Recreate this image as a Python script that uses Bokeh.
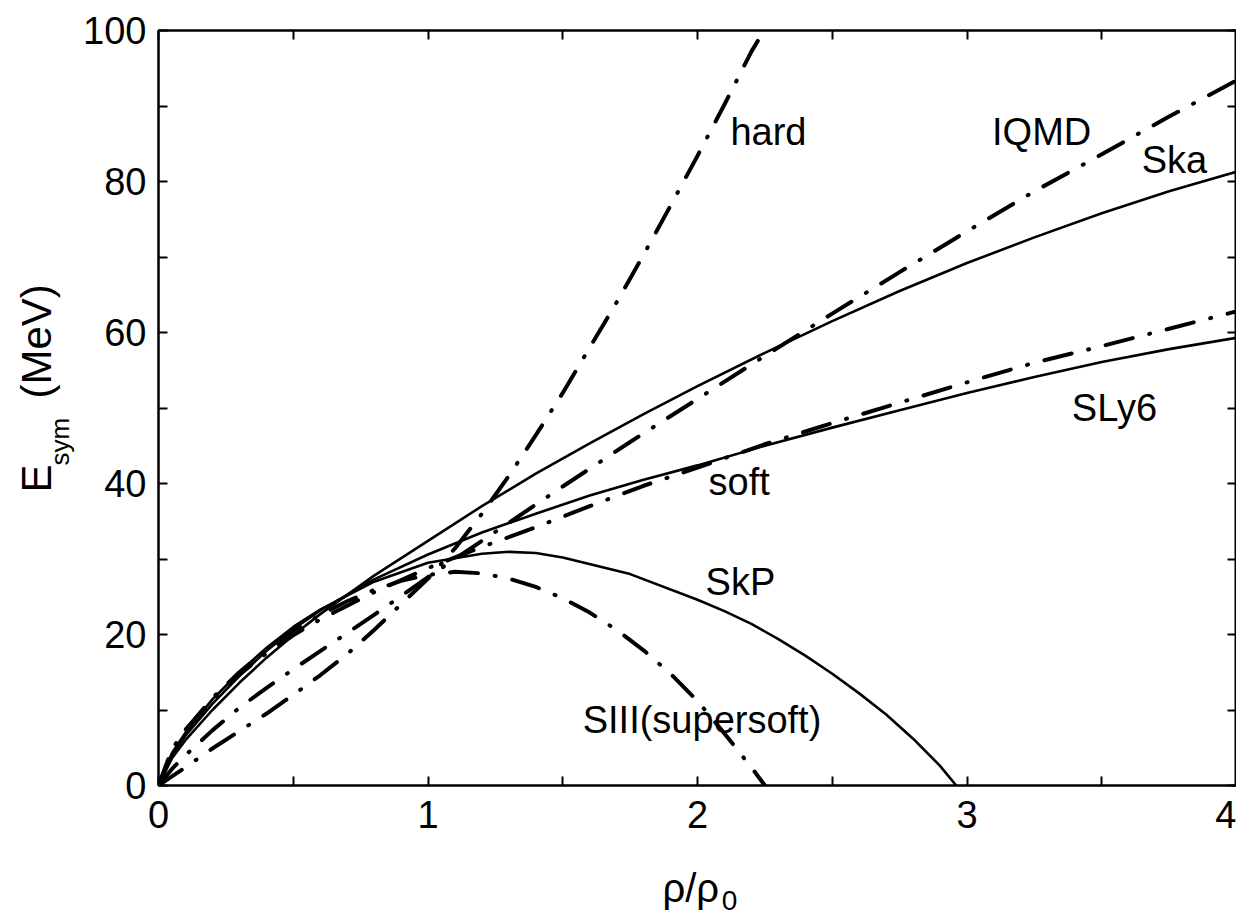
from bokeh.plotting import figure
from bokeh.models import Range1d, LinearAxis, FixedTicker, Label, CustomJSTickFormatter
from bokeh.layouts import row, column
from bokeh.embed import file_html
from bokeh.resources import INLINE
from bokeh.core.properties import value
import math

# ---------------- data ----------------
x_ska = [0, 0.05, 0.1, 0.2, 0.3, 0.4, 0.5, 0.6, 0.8, 1.0, 1.2, 1.4, 1.6, 1.8, 2.0,
         2.25, 2.5, 2.75, 3.0, 3.25, 3.5, 3.75, 4.0]
y_ska = [0, 3.6, 6.0, 10.0, 13.6, 16.9, 19.9, 22.7, 27.8, 32.4, 37.0, 41.3, 45.3, 49.2, 52.9,
         57.3, 61.5, 65.5, 69.2, 72.6, 75.8, 78.7, 81.3]

x_sly6 = [0, 0.05, 0.1, 0.2, 0.3, 0.4, 0.5, 0.6, 0.8, 1.0, 1.2, 1.4, 1.6, 1.8, 2.0,
          2.25, 2.5, 2.75, 3.0, 3.25, 3.5, 3.75, 4.0]
y_sly6 = [0, 4.0, 6.6, 10.8, 14.5, 17.8, 20.7, 23.2, 27.3, 30.6, 33.5, 36.0, 38.4, 40.5, 42.4,
          45.0, 47.4, 49.7, 52.0, 54.1, 56.1, 57.8, 59.3]

x_skp = [0, 0.05, 0.1, 0.2, 0.3, 0.4, 0.5, 0.6, 0.8, 1.0, 1.2, 1.3, 1.4, 1.5, 1.75, 2.0,
         2.1, 2.2, 2.3, 2.4, 2.5, 2.6, 2.7, 2.8, 2.9, 2.96]
y_skp = [0, 4.3, 7.0, 11.4, 15.0, 18.2, 21.0, 23.3, 27.0, 29.5, 30.7, 30.95, 30.8, 30.2, 28.0, 24.6,
         23.1, 21.4, 19.4, 17.2, 14.8, 12.2, 9.4, 6.2, 2.6, 0]

x_siii = [0, 0.05, 0.1, 0.2, 0.3, 0.4, 0.5, 0.6, 0.7, 0.8, 0.9, 1.0, 1.1, 1.2, 1.3, 1.4, 1.5,
          1.6, 1.7, 1.8, 1.9, 2.0, 2.1, 2.2, 2.25]
y_siii = [0, 4.5, 7.3, 11.6, 15.0, 18.0, 20.5, 22.6, 24.4, 25.9, 27.1, 27.9, 28.3, 28.1, 27.4, 26.3, 24.8,
          22.9, 20.6, 17.9, 14.8, 11.2, 6.9, 2.4, 0]

x_soft = [0, 0.05, 0.1, 0.2, 0.3, 0.4, 0.5, 0.6, 0.8, 1.0, 1.2, 1.4, 1.6, 1.8, 2.0,
          2.25, 2.5, 2.75, 3.0, 3.25, 3.5, 3.75, 4.0]
y_soft = [0, 4.8, 7.4, 11.4, 14.7, 17.5, 19.9, 22.0, 25.6, 28.8, 31.6, 34.2, 37.0, 39.7, 42.1,
          45.2, 48.0, 50.7, 53.4, 56.0, 58.2, 60.5, 62.8]

x_iqmd = [0, 0.05, 0.1, 0.2, 0.3, 0.4, 0.5, 0.6, 0.8, 1.0, 1.25, 1.5, 1.75, 2.0,
          2.25, 2.5, 2.75, 3.0, 3.25, 3.5, 3.75, 4.0]
y_iqmd = [0, 2.2, 4.0, 7.3, 10.3, 12.9, 15.4, 17.8, 22.6, 27.6, 33.6, 39.6, 45.5, 51.2,
          56.9, 62.5, 68.0, 73.4, 78.7, 83.6, 88.6, 93.4]

x_hard = [0, 0.05, 0.1, 0.2, 0.3, 0.4, 0.5, 0.6, 0.7, 0.8, 0.9, 1.0, 1.1, 1.2, 1.3, 1.4,
          1.5, 1.6, 1.7, 1.8, 1.9, 2.0, 2.1, 2.2, 2.23]
y_hard = [0, 1.2, 2.4, 4.9, 7.2, 9.5, 12.0, 14.6, 17.4, 20.6, 24.0, 27.4, 31.4, 36.0, 41.0, 46.4,
          52.0, 58.0, 64.0, 70.3, 76.8, 83.4, 90.2, 97.2, 99.0]

x_ticks = [0, 1, 2, 3, 4]
x_minor = [0.5, 1.5, 2.5, 3.5]
y_ticks = [0, 20, 40, 60, 80, 100]
y_minor = [10, 30, 50, 70, 90]

curve_labels = ["hard", "IQMD", "Ska", "SLy6", "soft", "SkP", "SIII(supersoft)"]
label_x = [2.122, 3.093, 3.648, 3.389, 2.041, 2.030, 1.574]
label_y = [84.5, 84.5, 80.9, 48.0, 38.2, 24.9, 6.6]   # text baselines

FONT = "Liberation Sans"
LABEL_FS = 38
BASE_SHIFT = 0.4      # renderer places the "alphabetic" anchor ~0.4 em above the drawn baseline

# ---------------- layout geometry ----------------
LEFT_W = 80          # strip holding the y-axis title
MAIN_W = 1156
MAIN_H = 850
BOT_H = 65
TOTAL_H = MAIN_H + BOT_H
BORDER_L = 75
PX_PER_Y = 755 / 100.0

# ---------------- main figure ----------------
p = figure(width=MAIN_W, height=MAIN_H,
           x_range=Range1d(0, 4), y_range=Range1d(0, 100),
           output_backend="svg", toolbar_location=None,
           x_axis_location=None, y_axis_location=None,
           min_border_left=BORDER_L, min_border_right=0,
           min_border_top=30, min_border_bottom=65)
p.grid.visible = False
p.outline_line_color = "black"
p.outline_line_width = 2
p.background_fill_color = "white"
p.border_fill_color = "white"

empty = CustomJSTickFormatter(code="return '';")


def style_axis(ax, show_labels, standoff=12):
    ax.axis_line_color = "black"
    ax.axis_line_width = 2
    ax.major_tick_in = 9
    ax.major_tick_out = 0
    ax.minor_tick_in = 9
    ax.minor_tick_out = 0
    ax.major_tick_line_width = 2
    ax.minor_tick_line_width = 2
    ax.major_tick_line_color = "black"
    ax.minor_tick_line_color = "black"
    if show_labels:
        ax.major_label_text_font = FONT
        ax.major_label_text_font_size = "38px"
        ax.major_label_text_color = "black"
        ax.major_label_standoff = standoff
    else:
        ax.formatter = empty
        ax.major_label_standoff = 0
        ax.major_label_text_font_size = "1px"


xb = LinearAxis(ticker=FixedTicker(ticks=x_ticks, minor_ticks=x_minor))
style_axis(xb, True, 15)
p.add_layout(xb, "below")
xt = LinearAxis(ticker=FixedTicker(ticks=x_ticks, minor_ticks=x_minor))
style_axis(xt, False)
p.add_layout(xt, "above")
yl = LinearAxis(ticker=FixedTicker(ticks=y_ticks, minor_ticks=y_minor))
style_axis(yl, True, 12)
p.add_layout(yl, "left")
yr = LinearAxis(ticker=FixedTicker(ticks=y_ticks, minor_ticks=y_minor))
style_axis(yr, False)
p.add_layout(yr, "right")

DASH = "28 17 1 17"
for xs, ys in [(x_ska, y_ska), (x_sly6, y_sly6), (x_skp, y_skp)]:
    p.line(xs, ys, line_color="black", line_width=2.6, line_join="round")
for xs, ys in [(x_hard, y_hard), (x_iqmd, y_iqmd), (x_soft, y_soft), (x_siii, y_siii)]:
    p.line(xs, ys, line_color="black", line_width=4, line_dash=DASH,
           line_cap="round", line_join="round")

lab_shift = BASE_SHIFT * LABEL_FS / PX_PER_Y
for t, lx, ly in zip(curve_labels, label_x, label_y):
    p.add_layout(Label(x=lx, y=ly + lab_shift, text=t, text_font=FONT,
                       text_font_size=f"{LABEL_FS}px", text_color="black",
                       text_align="left", text_baseline="alphabetic"))


def blank_fig(w, h, xr, yr_, bl=0):
    f = figure(width=w, height=h, x_range=xr, y_range=yr_,
               output_backend="svg", toolbar_location=None,
               x_axis_location=None, y_axis_location=None,
               min_border_left=bl, min_border_right=0, min_border_top=0, min_border_bottom=0)
    f.grid.visible = False
    f.outline_line_color = None
    f.background_fill_color = "white"
    f.border_fill_color = "white"
    return f


# ---------------- y-axis title strip (pixel-like coordinates) ----------------
left = blank_fig(LEFT_W, TOTAL_H, Range1d(0, LEFT_W), Range1d(0, TOTAL_H))
ytitle_text = ["E", "sym", "(MeV)"]
ytitle_size = [42, 26, 42]
ytitle_base_x = [53, 70, 53]          # wanted baseline position (px from left)
ytitle_start_y = [492, 465, 398]      # start of text (px from top)
for t, s, bx, sy in zip(ytitle_text, ytitle_size, ytitle_base_x, ytitle_start_y):
    left.text(x=[bx - BASE_SHIFT * s], y=[TOTAL_H - sy], text=[t], angle=math.pi / 2,
              text_font=value(FONT), text_font_size=value(f"{s}px"), text_color="black",
              text_align="left", text_baseline="alphabetic")

# ---------------- x-axis title strip (shares the x data scale) ----------------
bottom = blank_fig(MAIN_W, BOT_H, Range1d(0, 4), Range1d(0, BOT_H), bl=BORDER_L)
xtitle_text = ["\u03c1/\u03c1", "0"]
xtitle_size = [40, 28]
xtitle_x = [1.87, 2.09]
xtitle_base_y = [903, 911]            # wanted baseline (px from top of page)
for t, s, tx, by in zip(xtitle_text, xtitle_size, xtitle_x, xtitle_base_y):
    bottom.text(x=[tx], y=[TOTAL_H - (by - BASE_SHIFT * s)], text=[t],
                text_font=value(FONT), text_font_size=value(f"{s}px"), text_color="black",
                text_align="left", text_baseline="alphabetic")

layout = row(left, column(p, bottom, spacing=0), spacing=0)
open("out.html", "w").write(file_html(layout, INLINE))
